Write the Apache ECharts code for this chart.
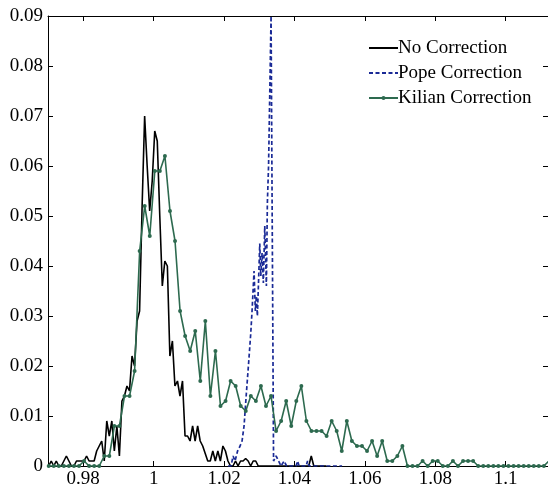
<!DOCTYPE html>
<html>
<head>
<meta charset="utf-8">
<script src="https://cdn.jsdelivr.net/npm/echarts@6/dist/echarts.min.js"></script>
<style>
html,body{margin:0;padding:0;background:#fff;}
#chart{width:548px;height:492px;}
</style>
</head>
<body>
<div id="chart"></div>
<script>
// ---- data ----
const xTicks = [0.98, 1, 1.02, 1.04, 1.06, 1.08, 1.1];
const seriesNames = ['No Correction', 'Pope Correction', 'Kilian Correction'];

// No Correction: histogram bins (start + step * index)
const noCorrStart = 0.9702;
const noCorrStep = 0.000717;
const noCorrY = [
  0, 0.001, 0, 0.001, 0, 0, 0.001, 0.002, 0.001, 0,
  0, 0.001, 0.001, 0.001, 0.001, 0.002, 0.001, 0.001, 0.001, 0.003,
  0.004, 0.005, 0.001, 0.009, 0.006, 0.009, 0.003, 0.008, 0.002, 0.013,
  0.014, 0.016, 0.015, 0.022, 0.020, 0.029, 0.031, 0.052, 0.070, 0.060,
  0.051, 0.057, 0.067, 0.065, 0.050, 0.036, 0.041, 0.040, 0.022, 0.025,
  0.016, 0.017, 0.014, 0.017, 0.006, 0.006, 0.005, 0.008, 0.005, 0.008,
  0.005, 0.004, 0.0025, 0.001, 0.001, 0.003, 0.001, 0.003, 0.001, 0.004,
  0.003, 0.001, 0, 0, 0.001, 0, 0.001, 0.001, 0.0015, 0.001,
  0, 0.001, 0.001, 0, 0, 0, 0, 0, 0, 0,
  0, 0, 0, 0, 0, 0, 0, 0, 0, 0,
  0, 0, 0, 0, 0.002, 0, 0, 0, 0, 0, 0
];

// Pope Correction: bin centres and values
const popeX = [
  1.02114, 1.02199, 1.02256, 1.02313, 1.02384, 1.02455, 1.02511, 1.02568, 1.02634, 1.02702,
  1.02759, 1.02795, 1.02852, 1.02889, 1.02918, 1.02946, 1.0298, 1.03014, 1.03043, 1.0308,
  1.03116, 1.03156, 1.03202, 1.0323, 1.03264, 1.03335, 1.03406, 1.03477, 1.03548, 1.03619,
  1.03705, 1.03776, 1.04045, 1.04088, 1.04131, 1.0433, 1.04372, 1.04415, 1.05352
];
const popeY = [
  0, 0, 0.002, 0.001, 0.003, 0.004, 0.005, 0.008, 0.0146, 0.021,
  0.0266, 0.031, 0.039, 0.031, 0.034, 0.030, 0.037, 0.0445, 0.038, 0.0426,
  0.0366, 0.048, 0.036, 0.0526, 0.06, 0.09, 0.001, 0.002, 0.001, 0,
  0.001, 0, 0, 0.001, 0, 0, 0.001, 0, 0
];

// Kilian Correction: histogram bins (start + step * index)
const kilianStart = 0.9702;
const kilianStep = 0.001435;
const kilianY = [
  0, 0, 0, 0, 0, 0, 0, 0.001, 0, 0,
  0, 0.002, 0.002, 0.008, 0.008, 0.014, 0.014, 0.019, 0.043, 0.052,
  0.046, 0.059, 0.059, 0.062, 0.051, 0.045, 0.031, 0.026, 0.023, 0.027,
  0.017, 0.029, 0.014, 0.023, 0.012, 0.013, 0.017, 0.016, 0.012, 0.011,
  0.014, 0.013, 0.016, 0.012, 0.014, 0.007, 0.009, 0.013, 0.008, 0.013,
  0.016, 0.009, 0.007, 0.007, 0.007, 0.006, 0.009, 0.007, 0.003, 0.009,
  0.005, 0.004, 0.004, 0.003, 0.005, 0.002, 0.005, 0.001, 0.001, 0.002,
  0.004, 0, 0, 0, 0.001, 0, 0.001, 0.001, 0, 0,
  0.001, 0, 0.001, 0.001, 0.001, 0, 0, 0, 0, 0,
  0, 0, 0, 0, 0, 0, 0, 0, 0, 0.001
];

// ---- build ----
const noCorrData = noCorrY.map((v, i) => [noCorrStart + i * noCorrStep, v]);
const popeData = popeX.map((x, i) => [x, popeY[i]]);
const kilianData = kilianY.map((v, i) => [kilianStart + i * kilianStep, v]);

const FONT = 'Liberation Serif';
const C_BLACK = '#000000';
const C_BLUE = '#1a2a96';
const C_GREEN = '#2d6a4f';

const tickStyle = { show: true, inside: true, length: 5, lineStyle: { color: '#000', width: 1 } };
const lineStyle = { show: true, onZero: false, lineStyle: { color: '#000', width: 1 } };

const chart = echarts.init(document.getElementById('chart'), null, { renderer: 'canvas' });
chart.setOption({
  animation: false,
  backgroundColor: '#fff',
  grid: { left: 48, right: 0, top: 16, bottom: 26, containLabel: false },
  legend: {
    orient: 'vertical',
    left: 363,
    top: 32,
    itemWidth: 29,
    itemHeight: 5,
    itemGap: 3,
    data: [
      { name: seriesNames[0], itemStyle: { opacity: 0 } },
      { name: seriesNames[1], itemStyle: { opacity: 0 } },
      { name: seriesNames[2] }
    ],
    textStyle: { fontFamily: FONT, fontSize: 19, color: '#000', lineHeight: 22, padding: [0, 0, 0, -5] },
    inactiveColor: '#ccc'
  },
  xAxis: [
    {
      type: 'value', min: 0.97, max: 1.112, position: 'bottom',
      axisLine: lineStyle,
      axisTick: Object.assign({ customValues: xTicks }, tickStyle),
      axisLabel: { customValues: xTicks, fontFamily: FONT, fontSize: 19, color: '#000', margin: 4,
        formatter: v => String(+v.toFixed(2)) },
      splitLine: { show: false }
    },
    {
      type: 'value', min: 0.97, max: 1.112, position: 'top',
      axisLine: lineStyle,
      axisTick: Object.assign({ customValues: xTicks }, tickStyle),
      axisLabel: { show: false },
      splitLine: { show: false }
    }
  ],
  yAxis: [
    {
      type: 'value', min: 0, max: 0.09, interval: 0.01, position: 'left',
      axisLine: lineStyle,
      axisTick: tickStyle,
      axisLabel: { fontFamily: FONT, fontSize: 19, color: '#000', margin: 5,
        formatter: v => String(+v.toFixed(2)) },
      splitLine: { show: false }
    },
    {
      type: 'value', min: 0, max: 0.09, interval: 0.01, position: 'right',
      axisLine: lineStyle,
      axisTick: tickStyle,
      axisLabel: { show: false },
      splitLine: { show: false }
    }
  ],
  series: [
    {
      name: seriesNames[0], type: 'line', data: noCorrData,
      symbol: 'none', color: C_BLACK,
      lineStyle: { color: C_BLACK, width: 1.6 }, clip: true, z: 3
    },
    {
      name: seriesNames[1], type: 'line', data: popeData,
      symbol: 'none', color: C_BLUE,
      lineStyle: { color: C_BLUE, width: 1.7, type: [4, 2.5] }, clip: true, z: 4
    },
    {
      name: seriesNames[2], type: 'line', data: kilianData,
      symbol: 'circle', symbolSize: 4, showAllSymbol: true, color: C_GREEN,
      itemStyle: { color: C_GREEN },
      lineStyle: { color: C_GREEN, width: 1.6 }, clip: true, z: 5
    }
  ]
});
</script>
</body>
</html>
